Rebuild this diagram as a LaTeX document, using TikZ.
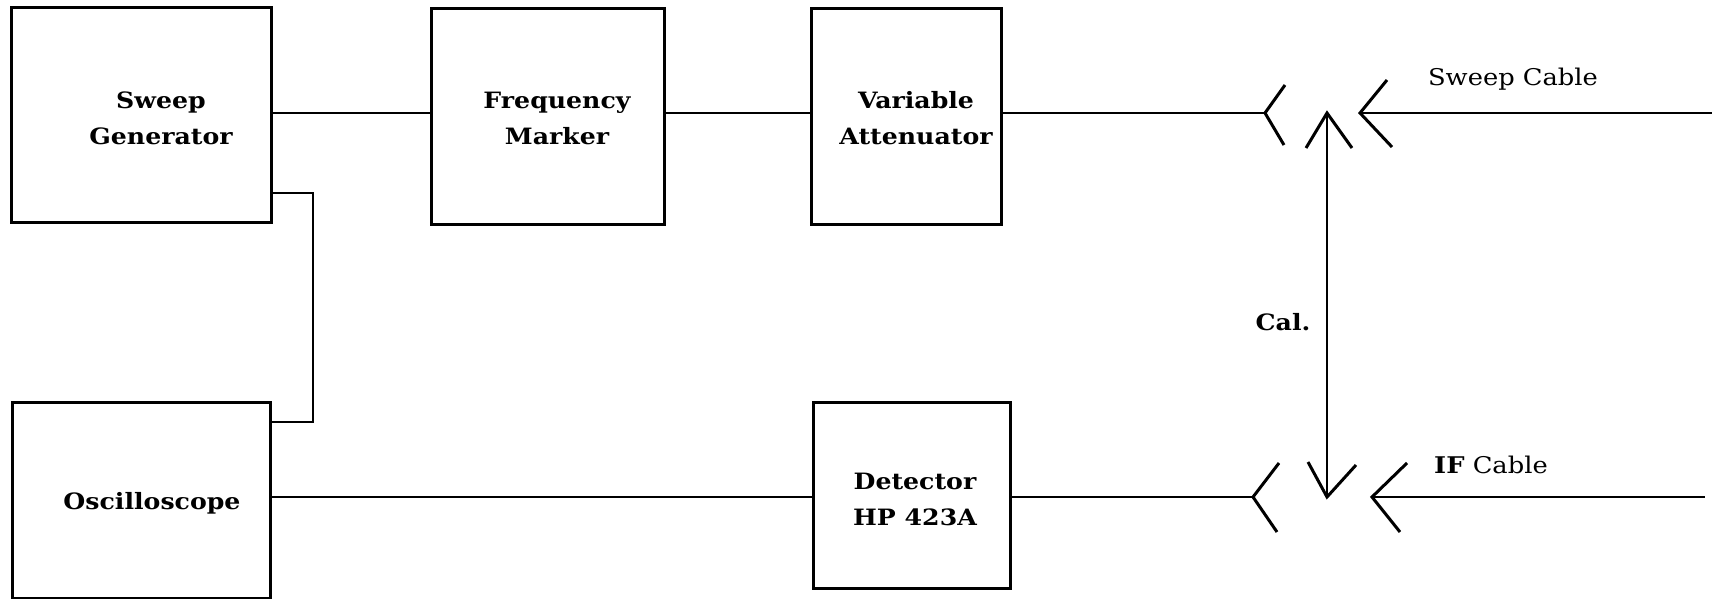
\documentclass[tikz,border=0pt]{standalone}
\usepackage{fontspec}
\setmainfont{DejaVu Serif}[FakeStretch=1.12]
\begin{document}
\begin{tikzpicture}[x=1pt,y=-1pt,
  box/.style={draw, line width=3pt, rectangle, inner sep=0pt},
  lbl/.style={font=\fontsize{22.5}{36}\selectfont\bfseries, align=center, inner sep=0pt},
  cbl/.style={font=\fontsize{23}{26}\selectfont, inner sep=0pt},
  wire/.style={line width=2.4pt},
  plug/.style={line width=3pt, line join=miter}]
\useasboundingbox (0,0) rectangle (1712,599);
% boxes
\node[box, minimum width=260pt, minimum height=214pt] (sg) at (141,115) {};
\node[box, minimum width=233pt, minimum height=215pt] (fm) at (547.5,116.5) {};
\node[box, minimum width=190pt, minimum height=215pt] (va) at (906,116.5) {};
\node[box, minimum width=258pt, minimum height=196pt] (osc) at (141,500) {};
\node[box, minimum width=197pt, minimum height=186pt] (det) at (911.5,495) {};
% labels
\node[lbl] (sgl) at (161,118) {Sweep\\Generator};
\node[lbl] (fml) at (557,118) {Frequency\\Marker};
\node[lbl] (val) at (916,118) {Variable\\Attenuator};
\node[lbl] (oscl) at (152,503) {Oscilloscope};
\node[lbl] (detl) at (915,499) {Detector\\HP 423A};
\node[lbl] (cal) at (1283,322) {Cal.};
\node[cbl] (swc) at (1513,79) {Sweep Cable};
\node[cbl] (ifc) at (1491,465) {\textbf{IF} Cable};
% coordinates
\coordinate (r1) at (0,113);
\coordinate (r2) at (0,497);
\coordinate (k1) at (313,193);
\coordinate (k2) at (313,422);
\coordinate (p1) at (1265,113);
\coordinate (p2) at (1360,113);
\coordinate (p3) at (1253,497);
\coordinate (p4) at (1372,497);
\coordinate (a1) at (1327,113);
\coordinate (a2) at (1327,497);
\coordinate (e1) at (1712,113);
\coordinate (e2) at (1705,497);
% wires
\draw[wire] (sg.east|-r1) -- (fm.west|-r1);
\draw[wire] (fm.east|-r1) -- (va.west|-r1);
\draw[wire] (va.east|-r1) -- (p1);
\draw[wire] (sg.east|-k1) -- (k1) -- (k2) -- (osc.east|-k2);
\draw[wire] (osc.east|-r2) -- (det.west|-r2);
\draw[wire] (det.east|-r2) -- (p3);
\draw[wire] (p2) -- (e1);
\draw[wire] (p4) -- (e2);
\draw[wire] (a1) -- (a2);
% plugs and arrow heads
\draw[plug] (1285,85) -- (p1) -- (1284,145);
\draw[plug] (1387,80) -- (p2) -- (1392,147);
\draw[plug] (1306,148) -- (a1) -- (1352,148);
\draw[plug] (1308,462) -- (a2) -- (1356,465);
\draw[plug] (1279,463) -- (p3) -- (1277,532);
\draw[plug] (1407,463) -- (p4) -- (1400,532);
\end{tikzpicture}
\end{document}
